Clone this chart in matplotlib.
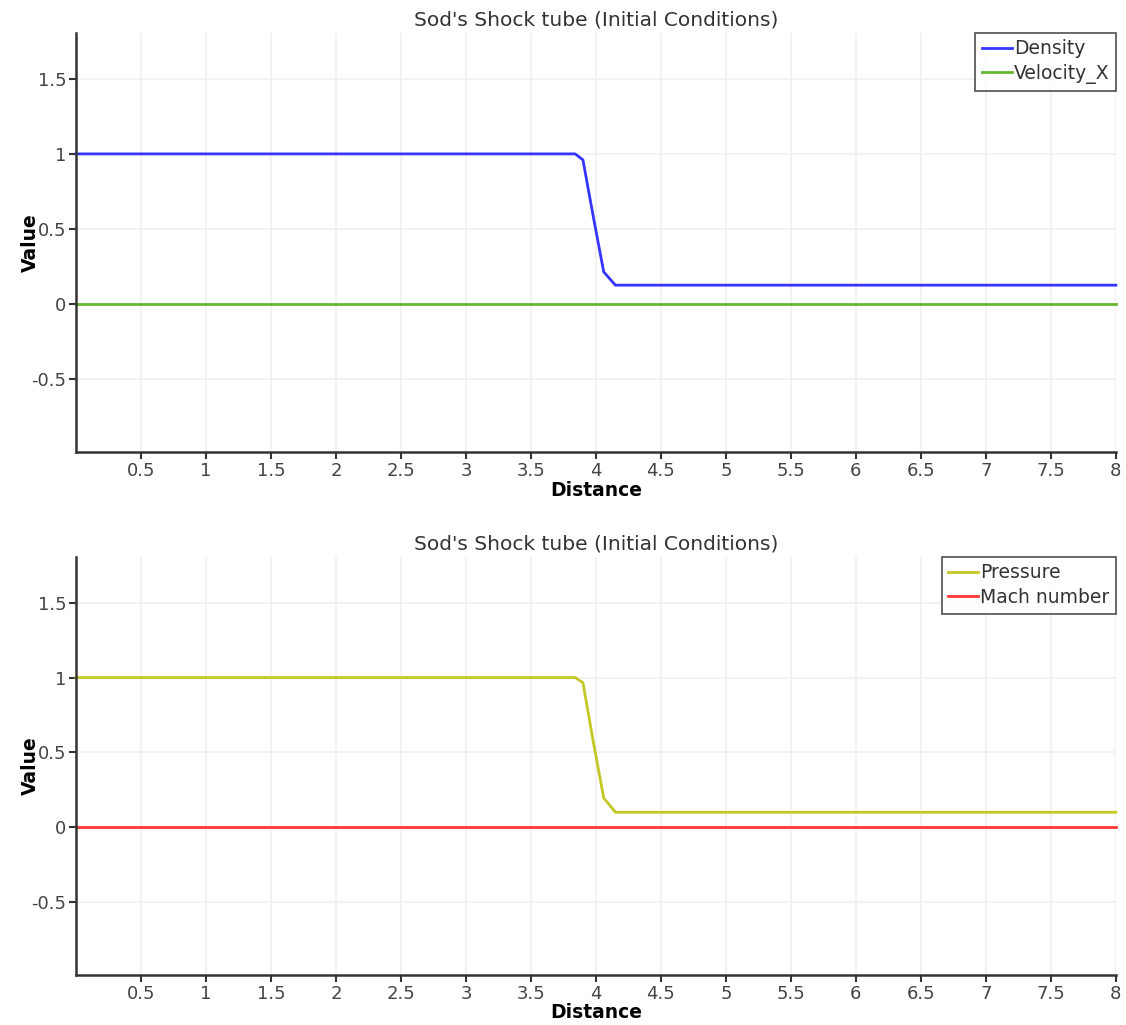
import matplotlib.pyplot as plt

# Sample positions along the tube and the field values at them
distance = [0.0, 3.84, 3.90, 3.98, 4.06, 4.15, 8.0]
density = [1.0, 1.0, 0.96, 0.58, 0.213, 0.125, 0.125]
pressure = [1.0, 1.0, 0.966, 0.57, 0.195, 0.1, 0.1]
velocity_x = [0.0, 0.0, 0.0, 0.0, 0.0, 0.0, 0.0]
mach_number = [0.0, 0.0, 0.0, 0.0, 0.0, 0.0, 0.0]

x_ticks = [0.5, 1, 1.5, 2, 2.5, 3, 3.5, 4, 4.5, 5, 5.5, 6, 6.5, 7, 7.5, 8]
y_ticks = [-0.5, 0, 0.5, 1, 1.5]

title = "Sod's Shock tube (Initial Conditions)"

plt.rcParams['font.family'] = ['DejaVu Sans']

fig = plt.figure(figsize=(11.26, 10.25), dpi=100)
ax_top = fig.add_axes([0.0675, 0.559, 0.9235, 0.409])
ax_bot = fig.add_axes([0.0675, 0.0488, 0.9235, 0.408])

series = [
    (ax_top, [(density, 'Density', '#3535ff'), (velocity_x, 'Velocity_X', '#66b832')]),
    (ax_bot, [(pressure, 'Pressure', '#c4c824'), (mach_number, 'Mach number', '#ff3535')]),
]

for ax, lines in series:
    for values, label, color in lines:
        ax.plot(distance, values, color=color, linewidth=2.0, label=label, clip_on=False)

    ax.set_xlim(0, 8)
    ax.set_ylim(-0.987, 1.807)
    ax.set_xticks(x_ticks)
    ax.set_xticklabels([f'{t:g}' for t in x_ticks])
    ax.set_yticks(y_ticks)
    ax.set_yticklabels([f'{t:g}' for t in y_ticks])
    ax.grid(True, color='#f0f0f0', linewidth=1.2)
    ax.set_axisbelow(True)

    for side in ['top', 'right']:
        ax.spines[side].set_visible(False)
    for side in ['left', 'bottom']:
        ax.spines[side].set_color('#333333')
        ax.spines[side].set_linewidth(1.8)
    ax.tick_params(axis='both', direction='out', length=5, width=1.5,
                   color='#333333', labelcolor='#444444', labelsize=13, pad=2)

    ax.set_title(title, fontsize=14.5, color='#333333', pad=5)
    ax.set_xlabel('Distance', fontsize=13.5, fontweight='bold')
    ax.set_ylabel('Value', fontsize=13.5, fontweight='bold')
    ax.xaxis.set_label_coords(0.5, -0.068)
    ax.yaxis.set_label_coords(-0.035, 0.5)

    leg = ax.legend(loc='upper right', fontsize=13.5, frameon=True, fancybox=False,
                    borderaxespad=0.0, handlelength=1.6, handletextpad=0.1,
                    borderpad=0.35, labelspacing=0.3, bbox_to_anchor=(1.0, 1.0))
    leg.get_frame().set_edgecolor('#222222')
    leg.get_frame().set_linewidth(1.2)
    for t in leg.get_texts():
        t.set_color('#333333')

fig.savefig('out.png', dpi=100)
